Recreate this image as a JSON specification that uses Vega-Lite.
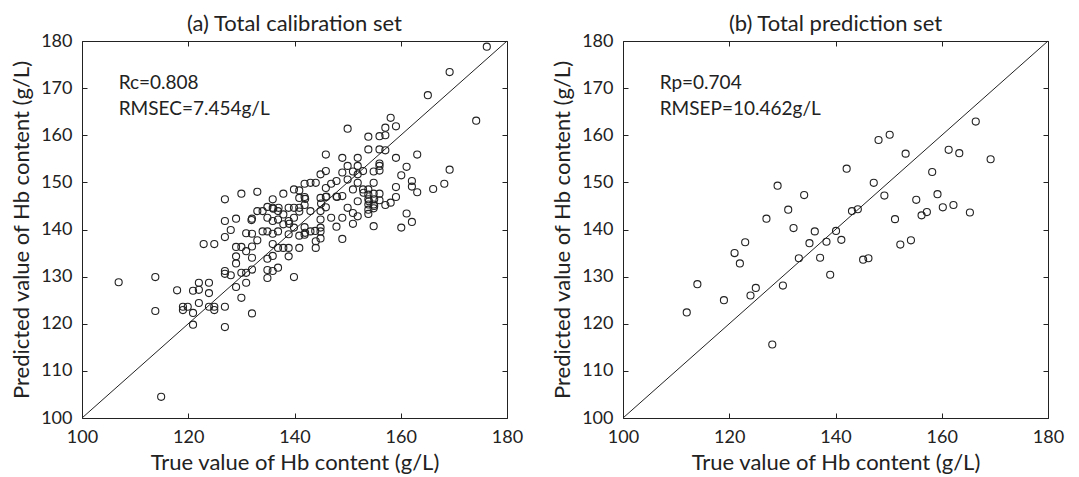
{
  "$schema": "https://vega.github.io/schema/vega-lite/v6.json",
  "padding": {"left": 10, "top": 12, "right": 5, "bottom": 5},
  "background": "white",
  "spacing": 27,
  "config": {
    "font": "Lato",
    "view": {"stroke": "#222", "strokeWidth": 1},
    "axis": {"grid": false, "domain": false, "tickColor": "#222", "tickSize": -5, "labelFlush": false, "labelOverlap": false,
      "labelFont": "Lato", "labelFontSize": 18, "labelColor": "#222",
      "titleFont": "Lato", "titleFontSize": 22, "titleFontWeight": "normal", "titleColor": "#222"},
    "title": {"font": "Lato", "fontSize": 22, "fontWeight": "normal", "color": "#222", "offset": -4}
  },
  "datasets": {
    "diag": [{"t": 100, "p": 100}, {"t": 180, "p": 180}],
    "annA": [{"t": 106.9, "p": 171.1, "label": "Rc=0.808"}, {"t": 106.9, "p": 165.5, "label": "RMSEC=7.454g/L"}],
    "annB": [{"t": 106.9, "p": 171.1, "label": "Rp=0.704"}, {"t": 106.9, "p": 165.5, "label": "RMSEP=10.462g/L"}],
    "cal": [
      {"t":106.9,"p":128.8},{"t":113.8,"p":129.9},{"t":113.8,"p":122.7},{"t":114.9,"p":104.5},{"t":117.9,"p":127.1},{"t":119.0,"p":123.6},{"t":119.0,"p":122.9},{"t":119.9,"p":123.6},{"t":120.9,"p":127.0},{"t":120.9,"p":122.3},{"t":120.9,"p":119.8},{"t":122.0,"p":128.7},{"t":122.0,"p":127.2},{"t":122.0,"p":124.4},{"t":122.9,"p":136.9},{"t":123.9,"p":128.7},{"t":123.9,"p":126.5},{"t":123.9,"p":123.6},{"t":124.9,"p":123.6},{"t":124.9,"p":122.9},{"t":124.9,"p":136.9},{"t":126.9,"p":146.4},{"t":126.9,"p":141.8},{"t":126.9,"p":138.4},{"t":126.9,"p":131.2},{"t":126.9,"p":130.6},{"t":126.9,"p":123.6},{"t":126.9,"p":119.3},{"t":128.0,"p":139.9},{"t":128.0,"p":130.3},{"t":129.0,"p":142.3},{"t":129.0,"p":136.3},{"t":129.0,"p":134.3},{"t":129.0,"p":132.8},{"t":129.0,"p":127.8},{"t":130.0,"p":147.6},{"t":130.0,"p":136.3},{"t":130.0,"p":130.8},{"t":130.0,"p":125.5},{"t":130.9,"p":139.2},{"t":130.9,"p":135.4},{"t":130.9,"p":128.7},{"t":130.9,"p":130.8},{"t":132.0,"p":142.3},{"t":132.0,"p":136.4},{"t":132.0,"p":134.0},{"t":132.0,"p":131.5},{"t":132.0,"p":122.2},{"t":132.0,"p":139.1},{"t":133.0,"p":148.0},{"t":133.0,"p":143.9},{"t":133.0,"p":137.7},{"t":134.0,"p":143.9},{"t":134.0,"p":139.6},{"t":134.9,"p":144.8},{"t":134.9,"p":142.5},{"t":134.9,"p":139.6},{"t":134.9,"p":133.8},{"t":134.9,"p":131.4},{"t":134.9,"p":129.7},{"t":135.9,"p":146.4},{"t":135.9,"p":144.6},{"t":135.9,"p":141.8},{"t":135.9,"p":139.1},{"t":135.9,"p":136.9},{"t":135.9,"p":134.4},{"t":135.9,"p":131.2},{"t":136.9,"p":143.9},{"t":136.9,"p":142.1},{"t":136.9,"p":139.6},{"t":136.9,"p":136.1},{"t":136.9,"p":131.9},{"t":137.9,"p":147.6},{"t":137.9,"p":143.2},{"t":137.9,"p":141.1},{"t":137.9,"p":136.1},{"t":138.9,"p":144.6},{"t":138.9,"p":141.8},{"t":138.9,"p":139.0},{"t":138.9,"p":136.1},{"t":138.9,"p":134.3},{"t":139.9,"p":148.5},{"t":139.9,"p":144.6},{"t":139.9,"p":142.5},{"t":139.9,"p":140.4},{"t":139.9,"p":129.9},{"t":140.9,"p":146.7},{"t":140.9,"p":144.6},{"t":140.9,"p":143.8},{"t":140.9,"p":138.7},{"t":140.9,"p":136.1},{"t":141.9,"p":149.7},{"t":141.9,"p":146.9},{"t":141.9,"p":145.2},{"t":141.9,"p":140.5},{"t":141.9,"p":138.9},{"t":143.0,"p":149.9},{"t":143.0,"p":143.9},{"t":143.0,"p":139.6},{"t":144.0,"p":149.9},{"t":144.0,"p":137.5},{"t":144.0,"p":136.1},{"t":144.9,"p":151.7},{"t":144.9,"p":146.7},{"t":144.9,"p":143.9},{"t":144.9,"p":142.1},{"t":144.9,"p":140.4},{"t":144.9,"p":139.6},{"t":144.9,"p":138.1},{"t":145.9,"p":155.9},{"t":145.9,"p":152.4},{"t":145.9,"p":148.8},{"t":145.9,"p":146.9},{"t":145.9,"p":144.7},{"t":146.9,"p":149.7},{"t":146.9,"p":142.5},{"t":147.9,"p":150.3},{"t":147.9,"p":147.0},{"t":147.9,"p":140.6},{"t":149.0,"p":155.2},{"t":149.0,"p":152.1},{"t":149.0,"p":147.1},{"t":149.0,"p":142.5},{"t":149.0,"p":138.0},{"t":150.0,"p":161.4},{"t":150.0,"p":153.5},{"t":150.0,"p":150.6},{"t":150.0,"p":144.6},{"t":151.0,"p":152.3},{"t":151.0,"p":148.5},{"t":151.0,"p":143.5},{"t":151.0,"p":141.2},{"t":151.9,"p":155.2},{"t":151.9,"p":153.5},{"t":151.9,"p":151.7},{"t":151.9,"p":149.9},{"t":151.9,"p":146.0},{"t":151.9,"p":142.8},{"t":152.9,"p":152.4},{"t":152.9,"p":148.5},{"t":153.9,"p":148.5},{"t":153.9,"p":147.4},{"t":153.9,"p":146.4},{"t":153.9,"p":145.3},{"t":153.9,"p":144.2},{"t":153.9,"p":143.3},{"t":153.9,"p":159.7},{"t":153.9,"p":157.0},{"t":154.9,"p":152.3},{"t":154.9,"p":149.9},{"t":154.9,"p":147.6},{"t":154.9,"p":145.3},{"t":154.9,"p":144.5},{"t":154.9,"p":140.7},{"t":156.0,"p":159.8},{"t":156.0,"p":157.0},{"t":156.0,"p":153.5},{"t":156.0,"p":152.5},{"t":156.0,"p":147.6},{"t":156.0,"p":146.2},{"t":157.1,"p":161.6},{"t":157.1,"p":160.0},{"t":157.1,"p":156.8},{"t":157.1,"p":145.2},{"t":158.1,"p":163.7},{"t":158.1,"p":145.7},{"t":159.1,"p":161.9},{"t":159.1,"p":155.2},{"t":159.1,"p":149.0},{"t":159.1,"p":146.9},{"t":160.1,"p":151.5},{"t":160.1,"p":140.4},{"t":161.1,"p":153.3},{"t":161.1,"p":143.4},{"t":162.1,"p":150.3},{"t":162.1,"p":149.1},{"t":162.1,"p":141.6},{"t":163.1,"p":155.9},{"t":163.1,"p":147.9},{"t":165.1,"p":168.5},{"t":166.1,"p":148.6},{"t":168.2,"p":149.7},{"t":169.2,"p":152.7},{"t":169.2,"p":173.4},{"t":174.2,"p":163.1},{"t":176.2,"p":178.8},
      {"t":142.0,"p":139.3},{"t":142.0,"p":146.5},{"t":140.9,"p":148.3},{"t":143.9,"p":139.7},{"t":139.0,"p":141.2},{"t":137.0,"p":144.6},{"t":131.9,"p":142.0},{"t":153.0,"p":147.8},{"t":155.0,"p":146.4},{"t":155.0,"p":145.0},{"t":154.0,"p":146.0},{"t":156.0,"p":154.0},{"t":148.0,"p":146.9},{"t":146.0,"p":147.0},{"t":145.0,"p":145.5},{"t":136.0,"p":144.4}
    ],
    "pred": [
      {"t":112.0,"p":122.4},{"t":114.0,"p":128.4},{"t":119.0,"p":125.0},{"t":121.0,"p":135.0},{"t":122.0,"p":132.8},{"t":123.0,"p":137.3},{"t":124.0,"p":126.0},{"t":125.0,"p":127.6},{"t":127.0,"p":142.3},{"t":128.1,"p":115.6},{"t":129.1,"p":149.3},{"t":130.1,"p":128.1},{"t":131.1,"p":144.2},{"t":132.1,"p":140.3},{"t":133.1,"p":133.9},{"t":134.1,"p":147.3},{"t":135.1,"p":137.1},{"t":136.1,"p":139.6},{"t":137.1,"p":134.0},{"t":138.3,"p":137.4},{"t":139.0,"p":130.4},{"t":140.1,"p":139.7},{"t":141.1,"p":137.8},{"t":142.1,"p":152.9},{"t":143.1,"p":143.9},{"t":144.2,"p":144.3},{"t":145.2,"p":133.6},{"t":146.2,"p":133.9},{"t":147.2,"p":149.9},{"t":148.1,"p":159.0},{"t":149.2,"p":147.2},{"t":150.2,"p":160.1},{"t":151.2,"p":142.2},{"t":152.2,"p":136.8},{"t":153.2,"p":156.1},{"t":154.2,"p":137.7},{"t":155.2,"p":146.3},{"t":156.2,"p":143.0},{"t":157.2,"p":143.7},{"t":158.2,"p":152.2},{"t":159.2,"p":147.5},{"t":160.2,"p":144.7},{"t":161.3,"p":156.9},{"t":162.2,"p":145.2},{"t":163.3,"p":156.2},{"t":165.3,"p":143.6},{"t":166.4,"p":162.9},{"t":169.2,"p":154.9}
    ]
  },
  "hconcat": [
    {
      "title": "(a) Total calibration set",
      "width": 425, "height": 377,
      "layer": [
        {"data": {"name": "diag"}, "mark": {"type": "line", "color": "#222", "strokeWidth": 1},
          "encoding": {
            "x": {"field": "t", "type": "quantitative", "scale": {"domain": [100, 180], "nice": false, "zero": false},
              "axis": {"orient": "bottom", "values": [100, 120, 140, 160, 180], "title": "True value of Hb content (g/L)", "labelPadding": 15, "titlePadding": 6}},
            "y": {"field": "p", "type": "quantitative", "scale": {"domain": [100, 180], "nice": false, "zero": false},
              "axis": {"orient": "left", "values": [100, 110, 120, 130, 140, 150, 160, 170, 180], "title": "Predicted value of Hb content (g/L)", "labelPadding": 15, "titlePadding": 7}}
          }},
        {"data": {"name": "cal"}, "mark": {"type": "point", "shape": "circle", "filled": false, "color": "#222", "size": 50, "strokeWidth": 1.1, "opacity": 1},
          "encoding": {
            "x": {"field": "t", "type": "quantitative", "scale": {"domain": [100, 180], "nice": false, "zero": false}, "axis": null},
            "y": {"field": "p", "type": "quantitative", "scale": {"domain": [100, 180], "nice": false, "zero": false}, "axis": null}
          }},
        {"data": {"name": "annA"}, "mark": {"type": "text", "align": "left", "baseline": "middle", "fontSize": 19, "color": "#222", "font": "Lato"},
          "encoding": {
            "x": {"field": "t", "type": "quantitative", "scale": {"domain": [100, 180], "nice": false, "zero": false}, "axis": null},
            "y": {"field": "p", "type": "quantitative", "scale": {"domain": [100, 180], "nice": false, "zero": false}, "axis": null},
            "text": {"field": "label"}
          }},
        {"data": {"name": "diag"}, "mark": {"type": "line", "opacity": 0},
          "encoding": {
            "x": {"field": "t", "type": "quantitative", "scale": {"domain": [100, 180], "nice": false, "zero": false},
              "axis": {"orient": "top", "values": [100, 120, 140, 160, 180], "labels": false, "title": null}},
            "y": {"field": "p", "type": "quantitative", "scale": {"domain": [100, 180], "nice": false, "zero": false},
              "axis": {"orient": "right", "values": [100, 110, 120, 130, 140, 150, 160, 170, 180], "labels": false, "title": null}}
          }}
      ]
    },
    {
      "title": "(b) Total prediction set",
      "width": 425, "height": 377,
      "layer": [
        {"data": {"name": "diag"}, "mark": {"type": "line", "color": "#222", "strokeWidth": 1},
          "encoding": {
            "x": {"field": "t", "type": "quantitative", "scale": {"domain": [100, 180], "nice": false, "zero": false},
              "axis": {"orient": "bottom", "values": [100, 120, 140, 160, 180], "title": "True value of Hb content (g/L)", "labelPadding": 15, "titlePadding": 6}},
            "y": {"field": "p", "type": "quantitative", "scale": {"domain": [100, 180], "nice": false, "zero": false},
              "axis": {"orient": "left", "values": [100, 110, 120, 130, 140, 150, 160, 170, 180], "title": "Predicted value of Hb content (g/L)", "labelPadding": 15, "titlePadding": 7}}
          }},
        {"data": {"name": "pred"}, "mark": {"type": "point", "shape": "circle", "filled": false, "color": "#222", "size": 50, "strokeWidth": 1.1, "opacity": 1},
          "encoding": {
            "x": {"field": "t", "type": "quantitative", "scale": {"domain": [100, 180], "nice": false, "zero": false}, "axis": null},
            "y": {"field": "p", "type": "quantitative", "scale": {"domain": [100, 180], "nice": false, "zero": false}, "axis": null}
          }},
        {"data": {"name": "annB"}, "mark": {"type": "text", "align": "left", "baseline": "middle", "fontSize": 19, "color": "#222", "font": "Lato"},
          "encoding": {
            "x": {"field": "t", "type": "quantitative", "scale": {"domain": [100, 180], "nice": false, "zero": false}, "axis": null},
            "y": {"field": "p", "type": "quantitative", "scale": {"domain": [100, 180], "nice": false, "zero": false}, "axis": null},
            "text": {"field": "label"}
          }},
        {"data": {"name": "diag"}, "mark": {"type": "line", "opacity": 0},
          "encoding": {
            "x": {"field": "t", "type": "quantitative", "scale": {"domain": [100, 180], "nice": false, "zero": false},
              "axis": {"orient": "top", "values": [100, 120, 140, 160, 180], "labels": false, "title": null}},
            "y": {"field": "p", "type": "quantitative", "scale": {"domain": [100, 180], "nice": false, "zero": false},
              "axis": {"orient": "right", "values": [100, 110, 120, 130, 140, 150, 160, 170, 180], "labels": false, "title": null}}
          }}
      ]
    }
  ]
}
